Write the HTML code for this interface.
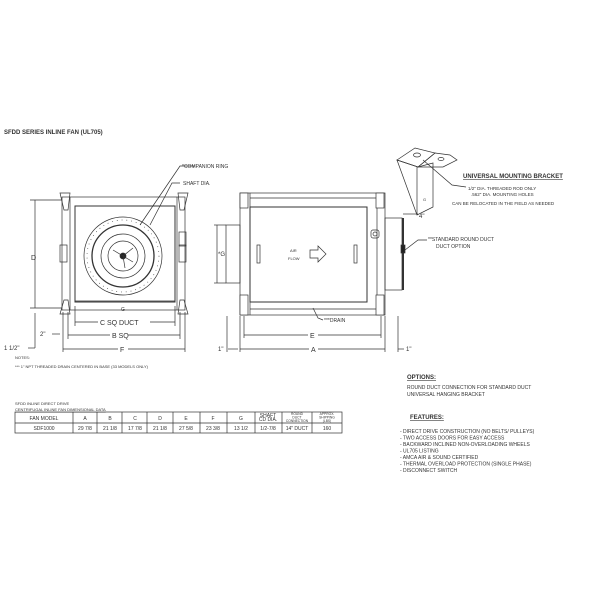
<!DOCTYPE html>
<html><head><meta charset="utf-8"><style>
html,body{margin:0;padding:0;background:#fff;}
svg{display:block}
text{font-family:"Liberation Sans",sans-serif;fill:#333;font-size:5px;}
.b{font-weight:bold}
</style></head><body>
<svg width="600" height="600" viewBox="0 0 600 600" stroke="#333" fill="none" stroke-width="0.7">
<text x="4" y="134" stroke="none" style="font-size:6px" class="b">SFDD SERIES INLINE FAN (UL705)</text>

<!-- Left view -->
<rect x="62" y="197" width="123" height="113"/>
<rect x="75" y="206" width="100" height="96" stroke-width="1"/>
<line x1="70" y1="197" x2="70" y2="310"/><line x1="177" y1="197" x2="177" y2="310"/>
<line x1="75" y1="301" x2="175" y2="301"/>
<polygon points="60,193 70,193 68,210 64,210"/>
<polygon points="178,193 188,193 184,210 180,210"/>
<polygon points="60,314 70,314 68,300 64,300"/>
<polygon points="178,314 188,314 184,300 180,300"/>
<rect x="60" y="245" width="7" height="17"/>
<rect x="179" y="232" width="7" height="14"/>
<rect x="179" y="245" width="7" height="17"/>
<circle cx="123" cy="256" r="39"/>
<circle cx="123" cy="256" r="36" stroke-dasharray="0.8 4"/>
<circle cx="123" cy="256" r="31" stroke-width="1.3"/>
<circle cx="123" cy="256" r="22"/>
<circle cx="123" cy="256" r="15"/>
<circle cx="123" cy="256" r="3" fill="#222"/>
<line x1="123" y1="256" x2="133" y2="248"/><line x1="123" y1="256" x2="113" y2="250"/><line x1="123" y1="256" x2="125" y2="268"/><line x1="123" y1="256" x2="133" y2="262"/>
<polyline points="140,225 180,166 195,166"/>
<polyline points="150,225 172,183 180,183"/>
<text x="182" y="168" stroke="none">*COMPANION RING</text>
<text x="183" y="185" stroke="none">SHAFT DIA.</text>
<line x1="35" y1="200" x2="35" y2="308"/><line x1="30" y1="200" x2="62" y2="200"/><line x1="30" y1="308" x2="62" y2="308"/>
<text x="31" y="260" stroke="none" style="font-size:7px">D</text>
<text x="121" y="311" stroke="none">G</text>
<line x1="75" y1="306" x2="75" y2="326"/><line x1="175" y1="306" x2="175" y2="326"/>
<line x1="75" y1="322" x2="98" y2="322"/><line x1="150" y1="322" x2="175" y2="322"/>
<text x="100" y="325" stroke="none" style="font-size:7px">C SQ DUCT</text>
<line x1="68" y1="312" x2="68" y2="339"/><line x1="180" y1="312" x2="180" y2="339"/>
<line x1="68" y1="335" x2="110" y2="335"/><line x1="128" y1="335" x2="180" y2="335"/>
<text x="112" y="338" stroke="none" style="font-size:7px">B SQ</text>
<line x1="63" y1="312" x2="63" y2="352"/><line x1="185" y1="312" x2="185" y2="352"/>
<line x1="63" y1="349" x2="118" y2="349"/><line x1="128" y1="349" x2="185" y2="349"/>
<text x="120" y="352" stroke="none" style="font-size:7px">F</text>
<text x="40" y="336" stroke="none" style="font-size:6px">2"</text>
<line x1="52" y1="334" x2="60" y2="334"/>
<text x="4" y="350" stroke="none" style="font-size:6px">1 1/2"</text>
<line x1="28" y1="348" x2="35" y2="348"/><line x1="35" y1="348" x2="35" y2="313"/>
<text x="15" y="359" stroke="none" style="font-size:4px">NOTES:</text>
<text x="15" y="368" stroke="none" style="font-size:4px">*** 1" NPT THREADED DRAIN CENTERED IN BASE (33 MODELS ONLY)</text>

<!-- Middle view -->
<rect x="240" y="193" width="145" height="122"/>
<rect x="250" y="207" width="117" height="95" stroke-width="1"/>
<line x1="250" y1="198" x2="377" y2="198"/><line x1="250" y1="309" x2="377" y2="309"/>
<line x1="250" y1="193" x2="250" y2="315"/><line x1="377" y1="193" x2="377" y2="315"/>
<rect x="240" y="193" width="8" height="15" fill="#fff"/><rect x="376" y="193" width="8" height="15" fill="#fff"/>
<rect x="240" y="295" width="8" height="20" fill="#fff"/><rect x="376" y="295" width="8" height="20" fill="#fff"/>
<rect x="226" y="225" width="14" height="58"/>
<rect x="385" y="218" width="17" height="72"/>
<line x1="403" y1="218" x2="403" y2="290" stroke-width="2"/>
<rect x="401" y="245" width="4" height="8" fill="#222"/>
<line x1="217" y1="225" x2="217" y2="283"/><line x1="214" y1="225" x2="226" y2="225"/><line x1="214" y1="283" x2="226" y2="283"/>
<text x="218" y="256" stroke="none" style="font-size:6px">*G</text>
<rect x="257" y="245" width="3" height="18"/><rect x="354" y="245" width="3" height="18"/>
<text x="290" y="252" stroke="none" style="font-size:4px">AIR</text>
<text x="288" y="260" stroke="none" style="font-size:4px">FLOW</text>
<polygon points="310,250 318,250 318,246 326,254 318,262 318,258 310,258"/>
<rect x="371" y="230" width="8" height="8" rx="2"/><circle cx="375" cy="234" r="2"/>
<polyline points="313,308 318,318 323,320"/>
<text x="324" y="322" stroke="none" style="font-size:5px">***DRAIN</text>
<line x1="244" y1="316" x2="244" y2="338"/><line x1="381" y1="316" x2="381" y2="338"/>
<line x1="244" y1="335" x2="308" y2="335"/><line x1="318" y1="335" x2="381" y2="335"/>
<text x="310" y="338" stroke="none" style="font-size:7px">E</text>
<line x1="240" y1="316" x2="240" y2="352"/><line x1="385" y1="316" x2="385" y2="352"/>
<line x1="240" y1="349" x2="309" y2="349"/><line x1="318" y1="349" x2="385" y2="349"/>
<text x="311" y="352" stroke="none" style="font-size:7px">A</text>
<line x1="227" y1="316" x2="227" y2="352"/><line x1="398" y1="316" x2="398" y2="352"/>
<text x="218" y="351" stroke="none" style="font-size:6px">1"</text><line x1="228" y1="349" x2="238" y2="349"/>
<text x="406" y="351" stroke="none" style="font-size:6px">1"</text><line x1="398" y1="349" x2="404" y2="349"/>
<line x1="403" y1="214" x2="418" y2="214"/><text x="419" y="218" stroke="none" style="font-size:6px">4"</text>
<polyline points="405,250 418,240 427,240"/>
<text x="428" y="241" stroke="none">**STANDARD ROUND DUCT</text>
<text x="436" y="248" stroke="none">DUCT OPTION</text>

<!-- Bracket -->
<polygon points="397,160 415,148 435,153 418,167"/>
<polygon points="435,153 450,155 457,160 443,167 418,167"/>
<polygon points="397,160 418,167 433,163 433,207 417,215"/>
<line x1="417" y1="167" x2="417" y2="215"/>
<ellipse cx="417" cy="155" rx="3.5" ry="2"/><ellipse cx="441" cy="159" rx="3" ry="1.5"/>
<text x="423" y="201" stroke="none" style="font-size:4px">G</text>
<polyline points="423,160 452,185 466,187"/>
<text x="463" y="178" stroke="none" class="b" style="font-size:6px;text-decoration:underline">UNIVERSAL MOUNTING BRACKET</text>
<text x="468" y="190" stroke="none" style="font-size:4.5px">1/2" DIA. THREADED ROD ONLY</text>
<text x="471" y="196" stroke="none" style="font-size:4.5px">.562" DIA. MOUNTING HOLES</text>
<text x="452" y="205" stroke="none" style="font-size:4.5px">CAN BE RELOCATED IN THE FIELD AS NEEDED</text>

<!-- Table -->
<text x="15" y="405" stroke="none" style="font-size:4px">SFDD INLINE DIRECT DRIVE</text>
<text x="15" y="411" stroke="none" style="font-size:4px;text-decoration:underline">CENTRIFUGAL INLINE FAN DIMENSIONAL DATA</text>
<rect x="15" y="412" width="327" height="21"/>
<line x1="15" y1="423" x2="342" y2="423"/>
<g>
<line x1="73" y1="412" x2="73" y2="433"/><line x1="97" y1="412" x2="97" y2="433"/><line x1="122" y1="412" x2="122" y2="433"/><line x1="147" y1="412" x2="147" y2="433"/><line x1="173" y1="412" x2="173" y2="433"/><line x1="200" y1="412" x2="200" y2="433"/><line x1="227" y1="412" x2="227" y2="433"/><line x1="255" y1="412" x2="255" y2="433"/><line x1="282" y1="412" x2="282" y2="433"/><line x1="312" y1="412" x2="312" y2="433"/>
</g>
<g stroke="none" style="font-size:4px" text-anchor="middle">
<text x="44" y="420">FAN MODEL</text><text x="85" y="420">A</text><text x="110" y="420">B</text><text x="135" y="420">C</text><text x="160" y="420">D</text><text x="186" y="420">E</text><text x="213" y="420">F</text><text x="241" y="420">G</text>
<text x="268" y="417">SHAFT</text><text x="268" y="421">CD DIA.</text>
<text x="297" y="415" style="font-size:3.3px">ROUND</text><text x="297" y="418.5" style="font-size:3.3px">DUCT</text><text x="297" y="422" style="font-size:3.3px">CONNECTION</text>
<text x="327" y="415" style="font-size:3.3px">APPROX.</text><text x="327" y="418.5" style="font-size:3.3px">SHIPPING</text><text x="327" y="422" style="font-size:3.3px">(LBS)</text>
<text x="44" y="430">SDF1000</text><text x="85" y="430">29 7/8</text><text x="110" y="430">21 1/8</text><text x="135" y="430">17 7/8</text><text x="160" y="430">21 1/8</text><text x="186" y="430">27 5/8</text><text x="213" y="430">23 3/8</text><text x="241" y="430">13 1/2</text><text x="268" y="430">1/2-7/8</text><text x="297" y="430">14" DUCT</text><text x="327" y="430">160</text>
</g>

<!-- Options / features -->
<g stroke="none" style="font-size:5px">
<text x="407" y="379" class="b" style="font-size:6px;text-decoration:underline">OPTIONS:</text>
<text x="407" y="389">ROUND DUCT CONNECTION FOR STANDARD DUCT</text>
<text x="407" y="396">UNIVERSAL HANGING BRACKET</text>
<text x="410" y="419" class="b" style="font-size:6px;text-decoration:underline">FEATURES:</text>
<text x="400" y="433">- DIRECT DRIVE CONSTRUCTION (NO BELTS/ PULLEYS)</text>
<text x="400" y="439.5">- TWO ACCESS DOORS FOR EASY ACCESS</text>
<text x="400" y="446">- BACKWARD INCLINED NON-OVERLOADING WHEELS</text>
<text x="400" y="452.5">- UL705 LISTING</text>
<text x="400" y="459">- AMCA AIR &amp; SOUND CERTIFIED</text>
<text x="400" y="465.5">- THERMAL OVERLOAD PROTECTION (SINGLE PHASE)</text>
<text x="400" y="472">- DISCONNECT SWITCH</text>
</g>
</svg>
</body></html>
